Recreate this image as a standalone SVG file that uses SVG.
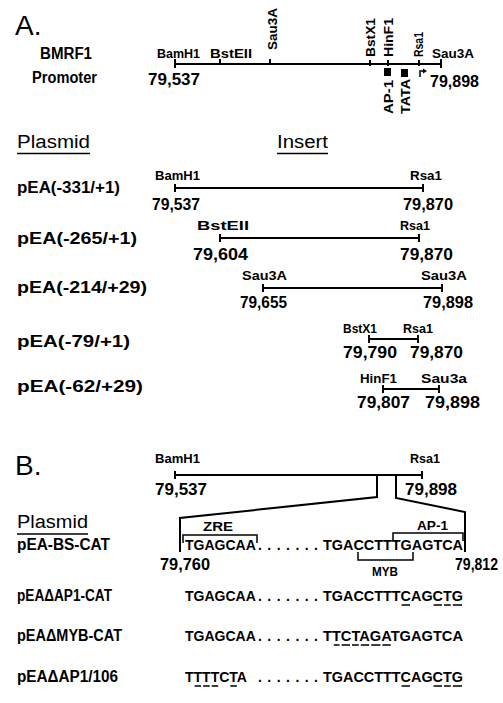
<svg xmlns="http://www.w3.org/2000/svg" width="503" height="703" viewBox="0 0 503 703">
<style>
.t{font-family:"Liberation Sans",Arial,sans-serif;font-weight:bold;fill:#000}
.h{font-family:"Liberation Sans",Arial,sans-serif;font-weight:normal;font-size:28px;fill:#000}
.hd{font-family:"Liberation Sans",Arial,sans-serif;font-weight:normal;font-size:18px;fill:#000}
.e{font-size:13.5px}
.n{font-size:16px}
.p{font-size:16px}
.s{font-size:14px}
.ln{stroke:#000;stroke-width:2;fill:none}
.u{stroke:#000;stroke-width:1.5;fill:none}
</style>
<rect width="503" height="703" fill="#fff"/>

<g id="panel-A-title"><text class="h" x="15" y="35">A.</text></g>

<g id="bmrf1-promoter">
<text class="t n" x="40" y="59" textLength="52" lengthAdjust="spacingAndGlyphs">BMRF1</text>
<text class="t n" x="32" y="83" textLength="65" lengthAdjust="spacingAndGlyphs">Promoter</text>
<path class="ln" d="M175,64 H441 M175,59 V68 M441,59 V68 M220,59 V64 M270,59 V64 M370,60 V66 M388,60 V66 M419,60 V66"/>
<text class="t e" x="157" y="58" textLength="43" lengthAdjust="spacingAndGlyphs">BamH1</text>
<text class="t e" x="210" y="58" textLength="42" lengthAdjust="spacingAndGlyphs">BstEII</text>
<text class="t e" transform="translate(277,50) rotate(-90)" textLength="42" lengthAdjust="spacingAndGlyphs">Sau3A</text>
<text class="t e" transform="translate(375,57) rotate(-90)" textLength="39" lengthAdjust="spacingAndGlyphs">BstX1</text>
<text class="t e" transform="translate(393,57) rotate(-90)" textLength="39" lengthAdjust="spacingAndGlyphs">HinF1</text>
<text class="t e" transform="translate(423,57) rotate(-90)" textLength="25" lengthAdjust="spacingAndGlyphs">Rsa1</text>
<text class="t e" x="432" y="58" textLength="42" lengthAdjust="spacingAndGlyphs">Sau3A</text>
<text class="t n" x="148" y="85" textLength="52" lengthAdjust="spacingAndGlyphs">79,537</text>
<text class="t n" x="430" y="87" textLength="49" lengthAdjust="spacingAndGlyphs">79,898</text>
<rect x="384" y="68" width="7" height="8" fill="#000"/>
<text class="t e" transform="translate(393,114) rotate(-90)" textLength="34" lengthAdjust="spacingAndGlyphs">AP-1</text>
<rect x="401" y="69" width="7" height="8" fill="#000"/>
<text class="t e" transform="translate(410,114) rotate(-90)" textLength="35" lengthAdjust="spacingAndGlyphs">TATA</text>
<path class="u" d="M420,77 V71 H424"/>
<path d="M427,71 L423,68.5 L423,73.5 Z" fill="#000"/>
</g>

<g id="headers-A">
<text class="hd" x="17" y="148" textLength="73" lengthAdjust="spacingAndGlyphs">Plasmid</text>
<path class="u" d="M17,153.5 H90"/>
<text class="hd" x="277" y="148" textLength="51" lengthAdjust="spacingAndGlyphs">Insert</text>
<path class="u" d="M277,153.5 H328"/>
</g>

<g id="pEA-331">
<text class="t p" x="17" y="193" textLength="103" lengthAdjust="spacingAndGlyphs">pEA(-331/+1)</text>
<path class="ln" d="M175,188 H423 M175,184 V192 M423,184 V192"/>
<text class="t e" x="155" y="180" textLength="45" lengthAdjust="spacingAndGlyphs">BamH1</text>
<text class="t e" x="410" y="180" textLength="32" lengthAdjust="spacingAndGlyphs">Rsa1</text>
<text class="t n" x="152" y="210" textLength="48" lengthAdjust="spacingAndGlyphs">79,537</text>
<text class="t n" x="403" y="210" textLength="50" lengthAdjust="spacingAndGlyphs">79,870</text>
</g>

<g id="pEA-265">
<text class="t p" x="17" y="244" textLength="120" lengthAdjust="spacingAndGlyphs">pEA(-265/+1)</text>
<path class="ln" d="M220,238 H419 M220,234 V242 M419,234 V242"/>
<text class="t e" x="197" y="230" textLength="52" lengthAdjust="spacingAndGlyphs">BstEII</text>
<text class="t e" x="400" y="230" textLength="30" lengthAdjust="spacingAndGlyphs">Rsa1</text>
<text class="t n" x="193" y="260" textLength="55" lengthAdjust="spacingAndGlyphs">79,604</text>
<text class="t n" x="400" y="260" textLength="53" lengthAdjust="spacingAndGlyphs">79,870</text>
</g>

<g id="pEA-214">
<text class="t p" x="17" y="293" textLength="130" lengthAdjust="spacingAndGlyphs">pEA(-214/+29)</text>
<path class="ln" d="M263,288 H442 M263,284 V292 M442,284 V292"/>
<text class="t e" x="242" y="280" textLength="45" lengthAdjust="spacingAndGlyphs">Sau3A</text>
<text class="t e" x="421" y="280" textLength="46" lengthAdjust="spacingAndGlyphs">Sau3A</text>
<text class="t n" x="240" y="308" textLength="47" lengthAdjust="spacingAndGlyphs">79,655</text>
<text class="t n" x="423" y="308" textLength="50" lengthAdjust="spacingAndGlyphs">79,898</text>
</g>

<g id="pEA-79">
<text class="t p" x="17" y="347" textLength="113" lengthAdjust="spacingAndGlyphs">pEA(-79/+1)</text>
<path class="ln" d="M369,339 H418 M369,335 V343 M418,335 V343"/>
<text class="t e" x="343" y="333" textLength="34" lengthAdjust="spacingAndGlyphs">BstX1</text>
<text class="t e" x="403" y="333" textLength="30" lengthAdjust="spacingAndGlyphs">Rsa1</text>
<text class="t n" x="343" y="358" textLength="54" lengthAdjust="spacingAndGlyphs">79,790</text>
<text class="t n" x="410" y="358" textLength="53" lengthAdjust="spacingAndGlyphs">79,870</text>
</g>

<g id="pEA-62">
<text class="t p" x="17" y="392" textLength="126" lengthAdjust="spacingAndGlyphs">pEA(-62/+29)</text>
<path class="ln" d="M383,389 H439 M383,385 V393 M439,385 V393"/>
<text class="t e" x="360" y="383" textLength="37" lengthAdjust="spacingAndGlyphs">HinF1</text>
<text class="t e" x="421" y="383" textLength="46" lengthAdjust="spacingAndGlyphs">Sau3a</text>
<text class="t n" x="357" y="408" textLength="53" lengthAdjust="spacingAndGlyphs">79,807</text>
<text class="t n" x="425" y="408" textLength="55" lengthAdjust="spacingAndGlyphs">79,898</text>
</g>

<g id="panel-B-title"><text class="h" x="15" y="475">B.</text></g>

<g id="insert-B">
<path class="ln" d="M175,475 H422 M175,471 V479 M422,471 V479"/>
<text class="t e" x="155" y="463" textLength="45" lengthAdjust="spacingAndGlyphs">BamH1</text>
<text class="t e" x="410" y="463" textLength="30" lengthAdjust="spacingAndGlyphs">Rsa1</text>
<text class="t n" x="155" y="495" textLength="52" lengthAdjust="spacingAndGlyphs">79,537</text>
<text class="t n" x="405" y="495" textLength="52" lengthAdjust="spacingAndGlyphs">79,898</text>
</g>

<g id="connectors">
<path class="ln" d="M377,475 V497 L180,518 V552"/>
<path class="ln" d="M396,475 V498 L465,512 V552"/>
</g>

<g id="header-B">
<text class="hd" x="17" y="528" textLength="71" lengthAdjust="spacingAndGlyphs">Plasmid</text>
<path class="u" d="M17,534 H88"/>
</g>

<g id="pEA-BS-CAT">
<text class="t p" x="17" y="550" textLength="93" lengthAdjust="spacingAndGlyphs">pEA-BS-CAT</text>
<text class="t e" x="203" y="531" textLength="30" lengthAdjust="spacingAndGlyphs">ZRE</text>
<path class="u" d="M183,543 V535 H257 V543"/>
<text class="t e" x="417" y="530" textLength="31" lengthAdjust="spacingAndGlyphs">AP-1</text>
<path class="u" d="M393,541 V533 H463 V541"/>
<text class="t s" x="185" y="550">TGAGCAA</text>
<text class="t s" x="258" y="550" textLength="60" lengthAdjust="spacing">.......</text>
<text class="t s" x="323" y="550" textLength="140" lengthAdjust="spacingAndGlyphs">TGACCTTTGAGTCA</text>
<path class="u" d="M358,552 V560 H413 V552"/>
<text class="t e" x="372" y="576" textLength="26" lengthAdjust="spacingAndGlyphs">MYB</text>
<text class="t n" x="160" y="570" textLength="50" lengthAdjust="spacingAndGlyphs">79,760</text>
<text class="t n" x="455" y="570" textLength="43" lengthAdjust="spacingAndGlyphs">79,812</text>
</g>

<g id="pEA-dAP1-CAT">
<text class="t p" x="17" y="601" textLength="95" lengthAdjust="spacingAndGlyphs">pEAΔAP1-CAT</text>
<text class="t s" x="185" y="601">TGAGCAA</text>
<text class="t s" x="258" y="601" textLength="60" lengthAdjust="spacing">.......</text>
<text class="t s" x="323" y="601" textLength="140" lengthAdjust="spacingAndGlyphs">TGACCTTTCAGCTG</text>
<path class="u" d="M401.6,605 H410 M433.6,605 H442 M444,605 H450.8 M452.8,605 H462"/>
</g>

<g id="pEA-dMYB-CAT">
<text class="t p" x="17" y="641" textLength="105" lengthAdjust="spacingAndGlyphs">pEAΔMYB-CAT</text>
<text class="t s" x="185" y="641">TGAGCAA</text>
<text class="t s" x="258" y="641" textLength="60" lengthAdjust="spacing">.......</text>
<text class="t s" x="323" y="641" textLength="140" lengthAdjust="spacingAndGlyphs">TTCTAGATGAGTCA</text>
<path class="u" d="M333.8,645 H339.6 M341.6,645 H350 M352,645 H358.8 M360.8,645 H369.2 M371.2,645 H380.4 M382.4,645 H390.8"/>
</g>

<g id="pEA-dAP1-106">
<text class="t p" x="17" y="682" textLength="101" lengthAdjust="spacingAndGlyphs">pEAΔAP1/106</text>
<text class="t s" x="185" y="682">TTTTCTA</text>
<text class="t s" x="258" y="682" textLength="60" lengthAdjust="spacing">.......</text>
<text class="t s" x="323" y="682" textLength="140" lengthAdjust="spacingAndGlyphs">TGACCTTTCAGCTG</text>
<path class="u" d="M194.6,686 H201.1 M203.1,686 H209.7 M211.7,686 H218.2 M230.3,686 H236.9"/>
<path class="u" d="M401.6,686 H410 M433.6,686 H442 M444,686 H450.8 M452.8,686 H462"/>
</g>
</svg>
